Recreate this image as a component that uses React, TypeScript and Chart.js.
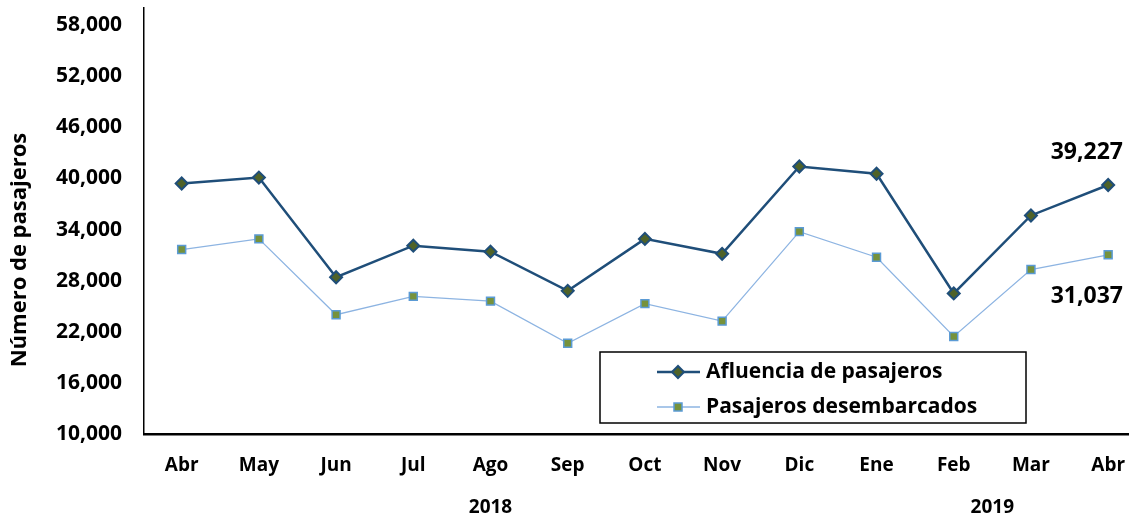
import React, { useEffect, useRef } from "react";
import { Chart, registerables } from "chart.js";

Chart.register(...registerables);

const months = ["Abr", "May", "Jun", "Jul", "Ago", "Sep", "Oct", "Nov", "Dic", "Ene", "Feb", "Mar", "Abr"];
const afluencia = [39400, 40100, 28400, 32100, 31400, 26800, 32900, 31150, 41400, 40550, 26500, 35650, 39227];
const desembarcados = [31650, 32900, 24000, 26150, 25600, 20650, 25300, 23250, 33750, 30750, 21450, 29300, 31037];
const yTicks = [10000, 16000, 22000, 28000, 34000, 40000, 46000, 52000, 58000];
const years = [
  { label: "2018", at: 4 },
  { label: "2019", at: 10.5 },
];
const seriesNames = ["Afluencia de pasajeros", "Pasajeros desembarcados"];
const yTitle = "Número de pasajeros";

const FONT = "'Open Sans', Roboto, sans-serif";
const DARK = "#1F4E79";
const DARK_FILL = "#4F6228";
const LIGHT = "#8DB4E2";
const LIGHT_BORDER = "#5B9BD5";
const LIGHT_FILL = "#76923C";

const fmt = (v: number) => v.toLocaleString("en-US");

const overlay = {
  id: "overlay",
  afterDraw(chart: any) {
    const ctx = chart.ctx;
    const xs = chart.scales.x;
    const ys = chart.scales.y;
    const area = chart.chartArea;
    ctx.save();
    // y title
    ctx.save();
    ctx.translate(20, 250);
    ctx.rotate(-Math.PI / 2);
    ctx.font = `bold 22px ${FONT}`;
    ctx.fillStyle = "#000";
    ctx.textAlign = "center";
    ctx.textBaseline = "middle";
    ctx.fillText(yTitle, 0, 0);
    ctx.restore();

    // years
    ctx.font = `bold 19px ${FONT}`;
    ctx.fillStyle = "#000";
    ctx.textAlign = "center";
    ctx.textBaseline = "middle";
    years.forEach((y) => ctx.fillText(y.label, xs.getPixelForValue(y.at), 508));

    // data labels on last point
    const last = months.length - 1;
    ctx.font = `bold 23px ${FONT}`;
    ctx.textAlign = "right";
    const rx = area.right - 5;
    ctx.fillText(fmt(afluencia[last]), rx, ys.getPixelForValue(afluencia[last]) - 33);
    ctx.fillText(fmt(desembarcados[last]), rx, ys.getPixelForValue(desembarcados[last]) + 42);

    // legend
    const bx = 600, by = 352, bw = 426, bh = 71;
    ctx.fillStyle = "#fff";
    ctx.fillRect(bx, by, bw, bh);
    ctx.strokeStyle = "#000";
    ctx.lineWidth = 1.5;
    ctx.strokeRect(bx, by, bw, bh);
    const rows = [372, 407];
    // row 1
    ctx.strokeStyle = DARK;
    ctx.lineWidth = 2.5;
    ctx.beginPath();
    ctx.moveTo(657, rows[0]);
    ctx.lineTo(700, rows[0]);
    ctx.stroke();
    ctx.beginPath();
    const r = 6;
    ctx.moveTo(678 - r, rows[0]);
    ctx.lineTo(678, rows[0] - r);
    ctx.lineTo(678 + r, rows[0]);
    ctx.lineTo(678, rows[0] + r);
    ctx.closePath();
    ctx.fillStyle = DARK_FILL;
    ctx.fill();
    ctx.lineWidth = 2;
    ctx.strokeStyle = DARK;
    ctx.stroke();
    // row 2
    ctx.strokeStyle = LIGHT;
    ctx.lineWidth = 1.3;
    ctx.beginPath();
    ctx.moveTo(657, rows[1]);
    ctx.lineTo(700, rows[1]);
    ctx.stroke();
    ctx.fillStyle = LIGHT_FILL;
    ctx.fillRect(674, rows[1] - 4, 8, 8);
    ctx.strokeStyle = LIGHT_BORDER;
    ctx.lineWidth = 1.5;
    ctx.strokeRect(674, rows[1] - 4, 8, 8);

    ctx.font = `bold 21px ${FONT}`;
    ctx.fillStyle = "#000";
    ctx.textAlign = "left";
    ctx.textBaseline = "middle";
    ctx.fillText(seriesNames[0], 706, rows[0]);
    ctx.fillText(seriesNames[1], 706, rows[1]);
    ctx.restore();
  },
};

export default function App() {
  const ref = useRef<HTMLCanvasElement>(null);
  useEffect(() => {
    if (!ref.current) return;
    const chart = new Chart(ref.current, {
      type: "line",
      data: {
        datasets: [
          {
            label: seriesNames[0],
            data: afluencia.map((v, i) => ({ x: i, y: v })),
            borderColor: DARK,
            borderWidth: 2.5,
            pointStyle: "rectRot",
            pointRadius: 6,
            pointBackgroundColor: DARK_FILL,
            pointBorderColor: DARK,
            pointBorderWidth: 2,
            tension: 0,
          },
          {
            label: seriesNames[1],
            data: desembarcados.map((v, i) => ({ x: i, y: v })),
            borderColor: LIGHT,
            borderWidth: 1.3,
            pointStyle: "rect",
            pointRadius: 5.6,
            pointBackgroundColor: LIGHT_FILL,
            pointBorderColor: LIGHT_BORDER,
            pointBorderWidth: 1.5,
            tension: 0,
          },
        ],
      },
      options: {
        responsive: false,
        animation: false,
        layout: { padding: { top: 8, right: 0, left: 0, bottom: 0 } },
        plugins: { legend: { display: false }, tooltip: { enabled: false } },
        scales: {
          x: {
            type: "linear",
            min: -0.488,
            max: 12.257,
            grid: { display: false, drawTicks: false },
            border: { display: true, color: "#000", width: 2.5 },
            afterBuildTicks: (s: any) => {
              s.ticks = months.map((_, i) => ({ value: i }));
            },
            afterFit: (s: any) => {
              s.height = 84;
              s.paddingLeft = 0;
              s.paddingRight = 0;
            },
            ticks: {
              autoSkip: false,
              maxRotation: 0,
              padding: 20,
              color: "#000",
              font: { family: FONT, size: 19, weight: "bold" },
              callback: (v: any) => months[Math.round(v)] ?? "",
            },
          },
          y: {
            min: 10000,
            max: 60000,
            grid: { display: false, drawTicks: false },
            border: { display: true, color: "#000", width: 1.5 },
            afterBuildTicks: (s: any) => {
              s.ticks = yTicks.map((v) => ({ value: v }));
            },
            afterFit: (s: any) => {
              s.width = 144;
              s.paddingTop = 0;
              s.paddingBottom = 0;
            },
            ticks: {
              padding: 22,
              color: "#000",
              font: { family: FONT, size: 21, weight: "bold" },
              callback: (v: any) => fmt(Number(v)),
            },
          },
        },
      },
      plugins: [overlay],
    } as any);
    return () => chart.destroy();
  }, []);
  return (
    <div style={{ position: "absolute", left: 0, top: 0, width: 1136, height: 518, background: "#fff" }}>
      <canvas ref={ref} width={1136} height={518} />
    </div>
  );
}
